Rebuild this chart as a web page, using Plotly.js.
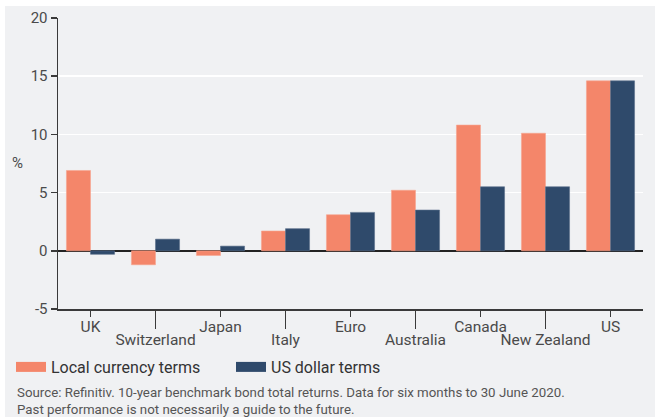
<!DOCTYPE html>
<html>
<head>
<meta charset="utf-8">
<script src="https://cdn.plot.ly/plotly-3.0.1.min.js"></script>
<style>
  html, body { margin: 0; padding: 0; background: #ffffff; }
  #wrap { position: relative; width: 657px; height: 417px; }
  #bg { position: absolute; left: 5px; top: 6px; width: 650px; height: 411px; background: #f0f1f3; }
  #chart { position: absolute; left: 0; top: 0; width: 657px; height: 417px; }
</style>
</head>
<body>
<div id="wrap"><div id="bg"></div><div id="chart"></div></div>
<script>
const categories = ["UK", "Switzerland", "Japan", "Italy", "Euro", "Australia", "Canada", "New Zealand", "US"];
const localCurrency = [6.9, -1.2, -0.4, 1.7, 3.1, 5.2, 10.8, 10.1, 14.6];
const usDollar = [-0.3, 1.0, 0.4, 1.9, 3.3, 3.5, 5.5, 5.5, 14.6];
const yTicks = [-5, 0, 5, 10, 15, 20];
const yTickText = ["-5", "0", "5", "10", "15", "20"];
const seriesNames = ["Local currency terms", "US dollar terms"];
const seriesColors = ["#f4866a", "#2f4a6b"];
const sourceLines = [
  "Source: Refinitiv. 10-year benchmark bond total returns. Data for six months to 30 June 2020.",
  "Past performance is not necessarily a guide to the future."
];

const idx = categories.map((c, i) => i);
const evenIdx = idx.filter(i => i % 2 === 0);
const oddIdx = idx.filter(i => i % 2 === 1);

const FONT = "Roboto, 'Open Sans', sans-serif";
const TXT = "#4a4a4a";
const AX = "#3a3a3a";

const traces = [
  {
    type: "bar", name: seriesNames[0], x: idx, y: localCurrency, showlegend: false,
    marker: { color: seriesColors[0], line: { color: "#f6a58f", width: 0.6 } },
    hoverinfo: "skip"
  },
  {
    type: "bar", name: seriesNames[1], x: idx, y: usDollar, showlegend: false,
    marker: { color: seriesColors[1], line: { color: "#5a6f8a", width: 0.6 } },
    hoverinfo: "skip"
  },
  // legend swatches (no data drawn); they also anchor the second x axis
  { type: "scatter", mode: "lines", name: seriesNames[0], x: [null], y: [null], xaxis: "x2",
    line: { color: seriesColors[0], width: 11 }, hoverinfo: "skip" },
  { type: "scatter", mode: "lines", name: seriesNames[1], x: [null], y: [null], xaxis: "x2",
    line: { color: seriesColors[1], width: 11 }, hoverinfo: "skip" }
];

const W = 657, H = 417, mL = 58, mR = 14, mT = 18, mB = 108;
const pw = W - mL - mR, ph = H - mT - mB;
const px = x => (x - mL) / pw;
const py = y => (H - mB - y) / ph;

const layout = {
  width: W, height: H,
  margin: { l: mL, r: mR, t: mT, b: mB, pad: 0 },
  paper_bgcolor: "rgba(0,0,0,0)",
  plot_bgcolor: "#f0f1f3",
  font: { family: FONT, color: TXT, size: 13 },
  barmode: "group",
  bargap: 0.26,
  bargroupgap: 0,
  showlegend: true,
  legend: {
    orientation: "h", xref: "container", yref: "container",
    x: 11 / W, xanchor: "left", y: 1 - 367 / H, yanchor: "middle",
    font: { family: FONT, size: 16, color: "#333333" },
    bgcolor: "rgba(0,0,0,0)", entrywidth: 175, entrywidthmode: "pixels",
    traceorder: "normal"
  },
  xaxis: {
    range: [-0.5, categories.length - 0.5],
    tickmode: "array", tickvals: evenIdx, ticktext: evenIdx.map(i => categories[i]), tickangle: 0,
    ticks: "outside", ticklen: 6, tickwidth: 1.5, tickcolor: AX, ticklabelstandoff: -3,
    showline: true, linecolor: AX, linewidth: 1.5,
    showgrid: false, zeroline: false,
    tickfont: { family: FONT, size: 15.5, color: TXT },
    fixedrange: true
  },
  xaxis2: {
    overlaying: "x", anchor: "y", side: "bottom",
    range: [-0.5, categories.length - 0.5],
    tickmode: "array", tickvals: oddIdx, ticktext: oddIdx.map(i => categories[i]), tickangle: 0,
    ticks: "outside", ticklen: 19, tickwidth: 1.5, tickcolor: AX, ticklabelstandoff: -3,
    showticklabels: true, showline: false, showgrid: false, zeroline: false,
    tickfont: { family: FONT, size: 15.5, color: TXT },
    fixedrange: true
  },
  yaxis: {
    range: [-5, 20], tickmode: "array", tickvals: yTicks, ticktext: yTickText,
    ticks: "outside", ticklen: 6, tickwidth: 1.5, tickcolor: AX,
    showline: true, linecolor: AX, linewidth: 1.5,
    showgrid: true, gridcolor: "#ffffff", gridwidth: 1.5,
    zeroline: true, zerolinecolor: "#222222", zerolinewidth: 1.5,
    tickfont: { family: FONT, size: 15, color: TXT },
    fixedrange: true
  },
  annotations: [
    {
      text: "%", xref: "paper", yref: "paper", x: px(18), y: py(163),
      xanchor: "center", yanchor: "middle", showarrow: false,
      font: { family: FONT, size: 15, color: TXT }
    },
    {
      text: sourceLines[0], xref: "paper", yref: "paper",
      x: px(15), y: py(393), xanchor: "left", yanchor: "middle", align: "left",
      showarrow: false, font: { family: FONT, size: 13.3, color: "#555555" }
    },
    {
      text: sourceLines[1], xref: "paper", yref: "paper",
      x: px(15), y: py(409), xanchor: "left", yanchor: "middle", align: "left",
      showarrow: false, font: { family: FONT, size: 13.3, color: "#555555" }
    }
  ]
};

Plotly.newPlot("chart", traces, layout, { staticPlot: true, displayModeBar: false });
</script>
</body>
</html>
